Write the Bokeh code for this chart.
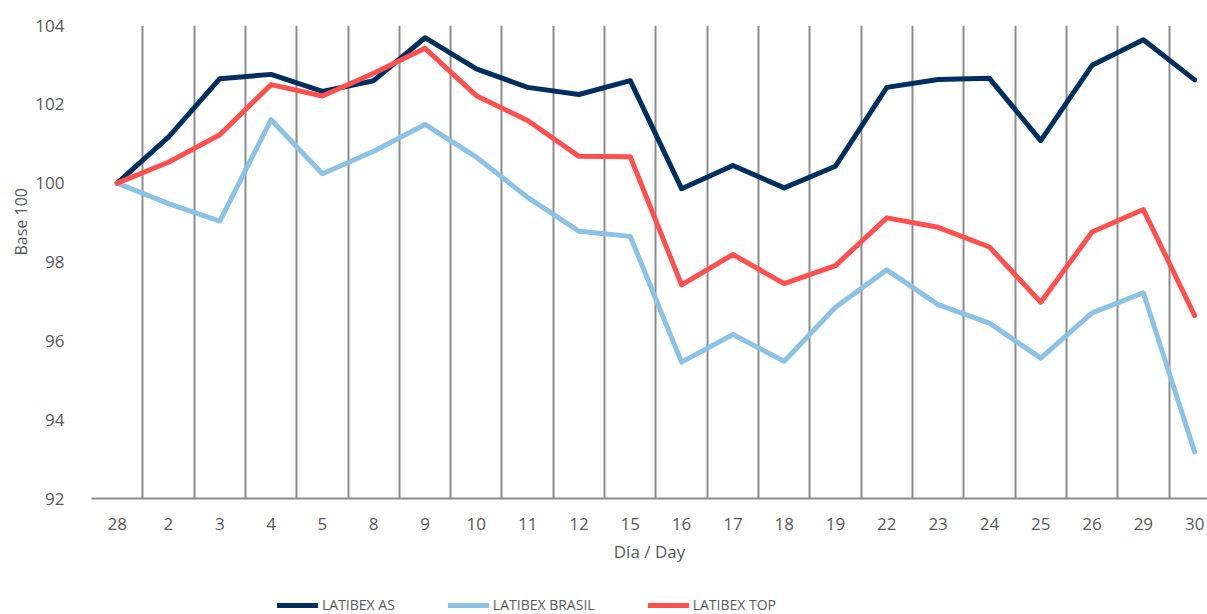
from bokeh.plotting import figure
from bokeh.layouts import column
from bokeh.models import FixedTicker, Legend, LegendItem, Range1d, Title
from bokeh.embed import file_html
from bokeh.resources import INLINE

days = ["28", "2", "3", "4", "5", "8", "9", "10", "11", "12", "15", "16",
        "17", "18", "19", "22", "23", "24", "25", "26", "29", "30"]

latibex_as = [100.0, 101.17, 102.65, 102.76, 102.33, 102.6, 103.69, 102.9,
              102.43, 102.25, 102.6, 99.86, 100.45, 99.88, 100.43, 102.43,
              102.63, 102.66, 101.08, 102.99, 103.64, 102.62]
latibex_brasil = [100.0, 99.48, 99.04, 101.61, 100.24, 100.81, 101.49, 100.66,
                  99.64, 98.78, 98.65, 95.46, 96.16, 95.48, 96.85, 97.8,
                  96.92, 96.45, 95.56, 96.71, 97.22, 93.18]
latibex_top = [100.0, 100.53, 101.23, 102.5, 102.21, 102.79, 103.42, 102.22,
               101.59, 100.68, 100.67, 97.42, 98.19, 97.45, 97.91, 99.12,
               98.88, 98.38, 96.98, 98.76, 99.33, 96.64]

series_names = ["LATIBEX AS", "LATIBEX BRASIL", "LATIBEX TOP"]
series_colors = ["#002f5f", "#8cc2e6", "#ff5050"]
series_values = [latibex_as, latibex_brasil, latibex_top]

y_ticks = [92, 94, 96, 98, 100, 102, 104]

FONT = "Open Sans"
TXT = "#595959"
GRID = "#8c8c8c"
LW = 5

x = list(range(len(days)))

p = figure(width=1207, height=590, output_backend="svg", toolbar_location=None,
           x_range=Range1d(-0.5, 21.25), y_range=Range1d(92, 104),
           min_border_left=91, min_border_right=0, min_border_top=25,
           min_border_bottom=92)
p.outline_line_color = None
p.background_fill_color = "white"
p.border_fill_color = "white"

# axes
p.xaxis.ticker = FixedTicker(ticks=x)
p.xaxis.major_label_overrides = {i: d for i, d in enumerate(days)}
p.xaxis.major_tick_line_color = None
p.xaxis.minor_tick_line_color = None
p.xaxis.axis_line_color = GRID
p.xaxis.axis_line_width = 2
p.xaxis.major_label_standoff = 13
p.xaxis.axis_label = "Día / Day"
p.xaxis.axis_label_standoff = 7
p.xaxis.axis_label_text_font_style = "normal"

p.yaxis.ticker = FixedTicker(ticks=y_ticks)
p.yaxis.major_tick_line_color = None
p.yaxis.minor_tick_line_color = None
p.yaxis.axis_line_color = None
p.yaxis.major_label_standoff = 21

for ax in (p.xaxis, p.yaxis):
    ax.major_label_text_font = FONT
    ax.major_label_text_font_size = "17px"
    ax.major_label_text_color = TXT
    ax.axis_label_text_font = FONT
    ax.axis_label_text_color = TXT
ax = None
p.xaxis.axis_label_text_font_size = "17px"

# y axis title, placed above the middle as in the reference
ytitle = Title(text="Base 100", align="left", offset=243, vertical_align="middle",
               text_font=FONT, text_font_size="16px", text_font_style="normal",
               text_color=TXT, standoff=0)
p.add_layout(ytitle, "left")

# grid: vertical lines at category boundaries
p.ygrid.grid_line_color = None
p.xgrid.ticker = FixedTicker(ticks=[i - 0.5 for i in range(len(days))])
p.xgrid.grid_line_color = GRID
p.xgrid.grid_line_width = 2

for vals, col in zip(series_values, series_colors):
    p.line(x, vals, line_color=col, line_width=LW, line_join="round", line_cap="round")

# legend strip below the chart (its lines use the same data, outside its view)
lg = figure(width=1207, height=24, output_backend="svg", toolbar_location=None,
            x_range=Range1d(-0.5, 21.25), y_range=Range1d(0, 1),
            min_border_left=0, min_border_right=0, min_border_top=0, min_border_bottom=0)
lg.outline_line_color = None
lg.axis.visible = False
lg.grid.visible = False
items = []
for name, col, vals in zip(series_names, series_colors, series_values):
    r = lg.line(x, vals, line_color=col, line_width=LW, line_cap="round")
    items.append(LegendItem(label=name, renderers=[r]))
legend = Legend(items=items, orientation="horizontal", location=(186, 0))
legend.padding = 0
legend.margin = 0
legend.spacing = 53
legend.glyph_width = 41
legend.glyph_height = 18
legend.label_standoff = 4
legend.label_text_font = FONT
legend.label_text_font_size = "14px"
legend.label_text_color = TXT
legend.border_line_color = None
legend.background_fill_alpha = 0
lg.add_layout(legend, "center")

layout = column(p, lg, spacing=0)
open("out.html", "w").write(file_html(layout, INLINE))
